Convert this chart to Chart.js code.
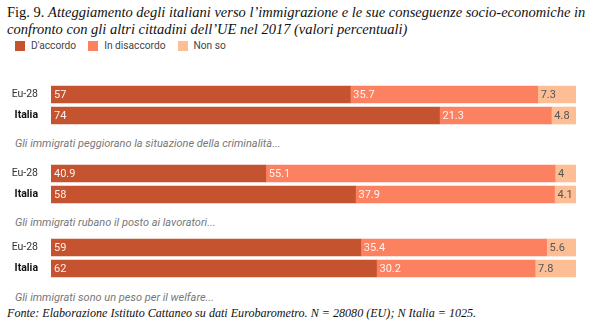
<!DOCTYPE html>
<html>
<head>
<meta charset="utf-8">
<script src="https://cdn.jsdelivr.net/npm/chart.js@4/dist/chart.umd.min.js"></script>
<style>
  body{margin:0;width:593px;height:326px;background:#fff;position:relative;overflow:hidden;font-family:Roboto,sans-serif}
  .title{position:absolute;left:7px;top:4px;font-family:"Liberation Serif",serif;font-size:14.5px;line-height:16.5px;color:#111;white-space:nowrap}
  .title i{font-style:italic}
  .legend{position:absolute;left:15px;top:40px;font-size:10.2px;color:#444;display:flex;align-items:center}
  .legend span{display:inline-block;width:10px;height:10px;margin-right:6px}
  .legend label{margin-right:12px}
  .grp{position:absolute;left:0}
  .cap{position:absolute;left:15px;font-size:11px;font-style:italic;color:#777}
  .foot{position:absolute;left:7px;top:306px;font-family:"Liberation Serif",serif;font-style:italic;font-size:12.1px;color:#111}
</style>
</head>
<body>
<div class="title">Fig. 9. <i>Atteggiamento degli italiani verso l’immigrazione e le sue conseguenze socio-economiche in</i><br><i>confronto con gli altri cittadini dell’UE nel 2017 (valori percentuali)</i></div>
<div class="legend" id="legend"></div>

<div class="grp" style="top:84px"><canvas id="c0" width="593" height="42"></canvas></div>
<div class="cap" style="top:137px">Gli immigrati peggiorano la situazione della criminalità...</div>
<div class="grp" style="top:163px"><canvas id="c1" width="593" height="42"></canvas></div>
<div class="cap" style="top:216px">Gli immigrati rubano il posto ai lavoratori...</div>
<div class="grp" style="top:237px"><canvas id="c2" width="593" height="42"></canvas></div>
<div class="cap" style="top:291px">Gli immigrati sono un peso per il welfare...</div>
<div class="foot">Fonte: Elaborazione Istituto Cattaneo su dati Eurobarometro. N = 28080 (EU); N Italia = 1025.</div>

<script>
const rows = ['Eu-28', 'Italia'];
const series = ["D'accordo", 'In disaccordo', 'Non so'];
const colors = ['#c5532f', '#fc8160', '#fdbe96'];

// one pair of rows per question: [Eu-28, Italia]
const accordo     = [[57, 74], [40.9, 58], [59, 62]];
const disaccordo  = [[35.7, 21.3], [55.1, 37.9], [35.4, 30.2]];
const nonSo       = [[7.3, 4.8], [4, 4.1], [5.6, 7.8]];

// legend
const lg = document.getElementById('legend');
series.forEach((s, i) => {
  const sw = document.createElement('span'); sw.style.background = colors[i];
  const t = document.createElement('label'); t.textContent = s;
  lg.appendChild(sw); lg.appendChild(t);
});

// write each value at the left end of its segment
const valueLabels = {
  id: 'valueLabels',
  afterDatasetsDraw(chart) {
    const ctx = chart.ctx;
    ctx.save();
    ctx.font = '11px Roboto';
    ctx.textBaseline = 'middle';
    ctx.textAlign = 'left';
    chart.data.datasets.forEach((ds, di) => {
      chart.getDatasetMeta(di).data.forEach((bar, i) => {
        ctx.fillStyle = di < 2 ? 'rgba(255,255,255,0.92)' : '#555';
        ctx.fillText(String(ds.data[i]), bar.base + 3, bar.y + 0.5);
      });
    });
    ctx.restore();
  }
};

function build(id, g) {
  const vals = [accordo[g], disaccordo[g], nonSo[g]];
  new Chart(document.getElementById(id), {
    type: 'bar',
    data: {
      labels: rows,
      datasets: series.map((s, i) => ({
        label: s, data: vals[i], backgroundColor: colors[i],
        barThickness: 17, borderWidth: 0
      }))
    },
    options: {
      indexAxis: 'y',
      responsive: false, animation: false,
      layout: { padding: { left: 0, right: 17, top: 0, bottom: 0 } },
      plugins: { legend: { display: false }, tooltip: { enabled: false } },
      scales: {
        x: { stacked: true, min: 0, max: 100, display: false },
        y: {
          stacked: true,
          grid: { display: false }, border: { display: false },
          // fixed label column, no extra room above/below the two rows
          afterFit: s => { s.width = 51; s.paddingTop = 0; s.paddingBottom = 0; },
          ticks: {
            padding: 5,
            color: c => c.index === 1 ? '#111' : '#333',
            font: c => ({ family: 'Roboto', size: 10.5, weight: c.index === 1 ? 'bold' : 'normal' })
          }
        }
      }
    },
    plugins: [valueLabels]
  });
}
[0, 1, 2].forEach(g => build('c' + g, g));
</script>
</body>
</html>
